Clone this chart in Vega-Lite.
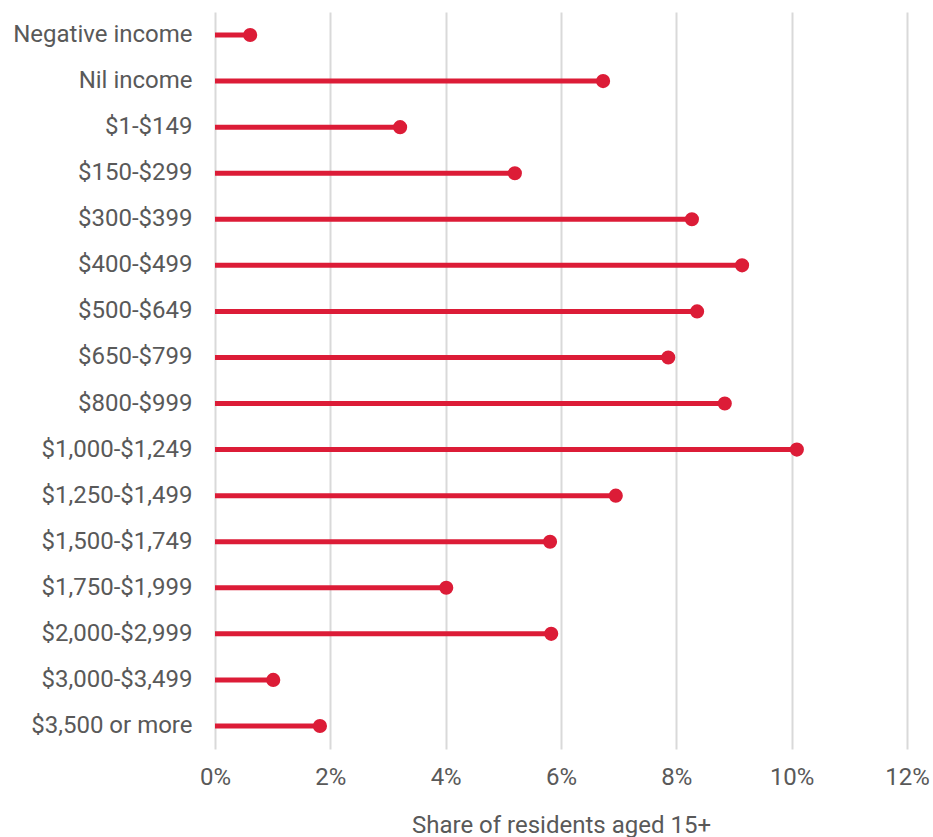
{
  "$schema": "https://vega.github.io/schema/vega-lite/v6.json",
  "autosize": {"type": "none"},
  "width": 692,
  "height": 737,
  "padding": {"left": 215, "top": 12, "right": 26, "bottom": 88},
  "background": "white",
  "config": {
    "view": {"stroke": null},
    "font": "Roboto"
  },
  "data": {
    "values": [
      {"band": "Negative income", "share": 0.0061},
      {"band": "Nil income", "share": 0.0673},
      {"band": "$1-$149", "share": 0.0321},
      {"band": "$150-$299", "share": 0.0520},
      {"band": "$300-$399", "share": 0.0827},
      {"band": "$400-$499", "share": 0.0914},
      {"band": "$500-$649", "share": 0.0836},
      {"band": "$650-$799", "share": 0.0786},
      {"band": "$800-$999", "share": 0.0884},
      {"band": "$1,000-$1,249", "share": 0.1009},
      {"band": "$1,250-$1,499", "share": 0.0695},
      {"band": "$1,500-$1,749", "share": 0.0581},
      {"band": "$1,750-$1,999", "share": 0.0401},
      {"band": "$2,000-$2,999", "share": 0.0583},
      {"band": "$3,000-$3,499", "share": 0.0101},
      {"band": "$3,500 or more", "share": 0.0182}
    ]
  },
  "encoding": {
    "y": {
      "field": "band",
      "type": "nominal",
      "sort": null,
      "scale": {"paddingInner": 0, "paddingOuter": 0},
      "axis": {
        "title": null,
        "domain": false,
        "ticks": false,
        "labelFontSize": 24,
        "labelColor": "#595959",
        "labelPadding": 23,
        "labelFont": "Roboto"
      }
    },
    "x": {
      "field": "share",
      "type": "quantitative",
      "scale": {"domain": [0, 0.12], "nice": false},
      "axis": {
        "title": "Share of residents aged 15+",
        "format": ".0%",
        "values": [0, 0.02, 0.04, 0.06, 0.08, 0.1, 0.12],
        "domain": false,
        "ticks": false,
        "grid": true,
        "gridColor": "#d9d9d9",
        "gridWidth": 2,
        "labelFlush": false,
        "labelFontSize": 24,
        "labelColor": "#595959",
        "labelPadding": 16,
        "labelFont": "Roboto",
        "titleFontSize": 24,
        "titleFontWeight": "normal",
        "titleColor": "#595959",
        "titleFont": "Roboto",
        "titlePadding": 24
      }
    }
  },
  "layer": [
    {
      "mark": {"type": "rule", "color": "#DC1C37", "strokeWidth": 5},
      "encoding": {"x2": {"datum": 0}}
    },
    {
      "mark": {"type": "point", "filled": true, "color": "#DC1C37", "opacity": 1, "size": 200}
    }
  ]
}
